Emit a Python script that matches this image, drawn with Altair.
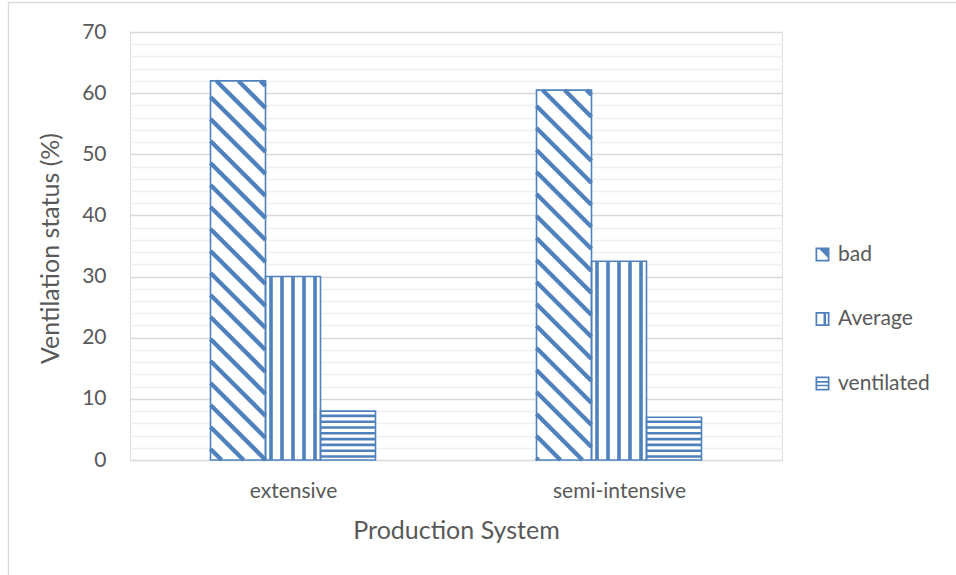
import json
import altair as alt
import pandas as pd

# ---------------- data ----------------
categories = ["extensive", "semi-intensive"]
series = ["bad", "Average", "ventilated"]
bad = [62, 60.5]
average = [30, 32.5]
ventilated = [8, 7]

# ---------------- layout constants ----------------
PLOT_W, PLOT_H, Y_MAX = 652, 428, 70
PX_X = PLOT_W / len(categories)     # pixels per x unit
PX_Y = PLOT_H / Y_MAX               # pixels per y unit
BAR_PX = 55
BW = BAR_PX / PX_X
BLUE = "#4f81bd"
TXT = "#595959"
FONT = "Lato"

values_by_series = {"bad": bad, "Average": average, "ventilated": ventilated}

rows = []
for i, cat in enumerate(categories):
    for j, s in enumerate(series):
        v = values_by_series[s][i]
        x0 = i + 0.5 - 1.5 * BW + j * BW
        rows.append(dict(category=cat, series=s, value=v, x0=x0, x1=x0 + BW,
                         xc=x0 + BW / 2, half=v / 2, base=0))
bars = pd.DataFrame(rows)

# hatch geometry derived from the bar table
diag, vert, horiz = [], [], []
for r in rows:
    W, H = BAR_PX, r["value"] * PX_Y
    if r["series"] == "bad":
        P = 22.0
        k = (H + 6) % P
        while k < W + H:
            if k > 0:
                us = max(0.0, k - H); hs = k - us
                ue = min(W, k); he = k - ue
                if ue - us > 1:
                    diag.append(dict(xa=r["x0"] + us / PX_X, ya=hs / PX_Y,
                                     xb=r["x0"] + ue / PX_X, yb=he / PX_Y))
            k += P
    elif r["series"] == "Average":
        for n in range(5):
            u = (n + 0.5) * W / 5
            vert.append(dict(xs=r["x0"] + u / PX_X, y0=0, y1=r["value"]))
    else:
        h = 3.5
        while h < H - 2:
            horiz.append(dict(x0=r["x0"], x1=r["x1"], ys=h / PX_Y))
            h += 5.8
diag = pd.DataFrame(diag)
vert = pd.DataFrame(vert)
horiz = pd.DataFrame(horiz)

# ---------------- scales & axes ----------------
xscale = alt.Scale(domain=[0, len(categories)], nice=False, zero=False)
yscale = alt.Scale(domain=[0, Y_MAX], nice=False)

label_expr = json.dumps(categories) + "[floor(datum.value)]"
xaxis = alt.Axis(
    values=[i + 0.5 for i in range(len(categories))], labelExpr=label_expr,
    grid=False, domain=False, ticks=False, tickSize=0, labelPadding=20,
    labelFontSize=21, labelColor=TXT, labelFont=FONT,
    title="Production System", titleFontSize=25, titleFont=FONT,
    titleFontWeight="normal", titleColor=TXT, titleY=70, titleBaseline="middle",
)
yaxis = alt.Axis(
    values=list(range(0, Y_MAX + 1, 2)),
    labelExpr="datum.value % 10 === 0 ? datum.label : ''",
    grid=True,
    gridColor={"condition": {"test": "datum.value % 10 === 0", "value": "#d9d9d9"},
               "value": "#f0f0f0"},
    gridWidth=1.3, domain=False, ticks=False, tickSize=0, labelPadding=24,
    labelFontSize=21, labelColor=TXT, labelFont=FONT,
    title="Ventilation status (%)", titleFontSize=25, titleFont=FONT,
    titleFontWeight="normal", titleColor=TXT, titleX=-72, titleY=PLOT_H / 2 + 2,
    titleAngle=270, titleAlign="center", titleBaseline="alphabetic",
)


def X(f):
    return alt.X(f, type="quantitative", scale=xscale, axis=xaxis)


def Y(f):
    return alt.Y(f, type="quantitative", scale=yscale, axis=yaxis)


ring = "M-1,-1H1V1H-1Z M-0.75,-0.75V0.75H0.75V-0.75Z"
shapes = [
    ring + " M-0.45,-0.75H0.75V0.45Z",
    ring + " M0.15,-0.75H0.5V0.75H0.15Z",
    ring + " M-0.75,-0.35H0.75V-0.12H-0.75Z M-0.75,0.18H0.75V0.4H-0.75Z",
]
legend = alt.Legend(title=None, orient="none", legendX=682, legendY=212,
                    labelFontSize=21, labelColor=TXT, labelFont=FONT,
                    symbolSize=196, symbolStrokeWidth=0, rowPadding=42.5,
                    labelOffset=5, symbolOpacity=1)

# legend carrier points (hidden beneath the bars)
pts = alt.Chart(bars).mark_point(filled=True, opacity=1).encode(
    x=X("xc"), y=Y("half"),
    color=alt.Color("series:N", sort=series,
                    scale=alt.Scale(domain=series, range=[BLUE] * 3), legend=legend),
    shape=alt.Shape("series:N", sort=series,
                    scale=alt.Scale(domain=series, range=shapes), legend=legend),
)

fill = alt.Chart(bars).mark_rect(fill="white").encode(
    x=X("x0"), x2="x1", y=Y("value"), y2="base")

diag_l = alt.Chart(diag).mark_rule(color=BLUE, strokeWidth=4.3).encode(
    x=X("xa"), x2="xb", y=Y("ya"), y2="yb")

vert_l = alt.Chart(vert).mark_rule(color=BLUE, strokeWidth=3.6).encode(
    x=X("xs"), y=Y("y0"), y2="y1")

horiz_l = alt.Chart(horiz).mark_rule(color=BLUE, strokeWidth=2.6).encode(
    x=X("x0"), x2="x1", y=Y("ys"))

outline = alt.Chart(bars).mark_rect(fillOpacity=0, stroke=BLUE, strokeWidth=1.6).encode(
    x=X("x0"), x2="x1", y=Y("value"), y2="base")

one = pd.DataFrame({"a": [0]})
border_v = alt.Chart(one).mark_rule(color="#d9d9d9", strokeWidth=1.3).encode(
    x=alt.value(-121.5), y=alt.value(-29.5), y2=alt.value(600))
border_h = alt.Chart(one).mark_rule(color="#d9d9d9", strokeWidth=1.3).encode(
    x=alt.value(-121.5), x2=alt.value(900), y=alt.value(-29.5))

chart = alt.layer(pts, fill, diag_l, vert_l, horiz_l, outline, border_v, border_h).properties(
    width=PLOT_W, height=PLOT_H,
    autosize=alt.AutoSizeParams(type="none"),
    padding={"left": 130, "top": 32, "right": 174, "bottom": 115},
    background="white",
).configure_view(stroke=None).configure(font=FONT)

chart.save("out.html", embed_options={"renderer": "svg", "actions": False})
